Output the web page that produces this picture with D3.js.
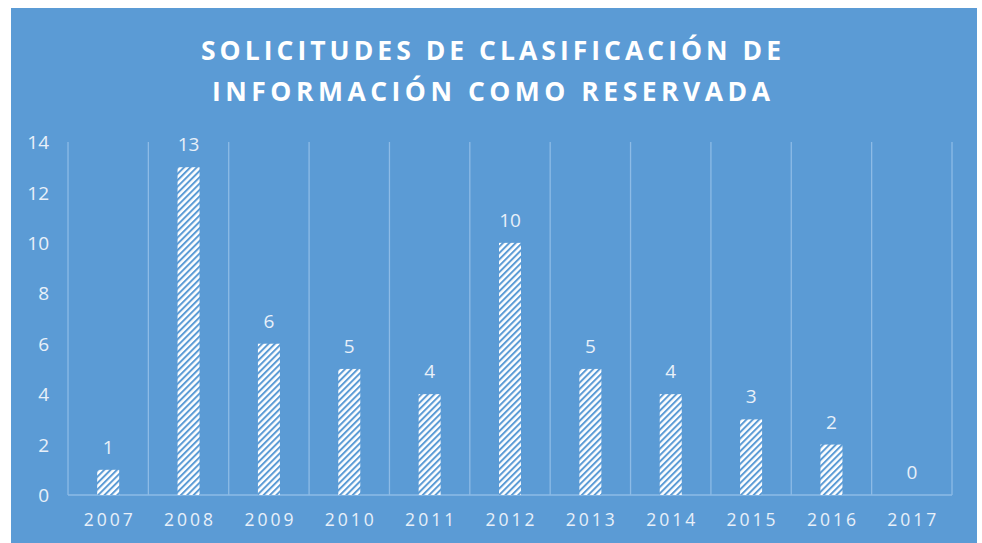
<!DOCTYPE html>
<html><head><meta charset="utf-8">
<script src="https://cdn.jsdelivr.net/npm/d3@7/dist/d3.min.js"></script>
<style>html,body{margin:0;padding:0;background:#fff;}svg{display:block;}</style>
</head><body>
<svg id="chart" width="982" height="543"></svg>
<script>
const titleLines = ["SOLICITUDES DE CLASIFICACIÓN DE", "INFORMACIÓN COMO RESERVADA"];
const years = ["2007","2008","2009","2010","2011","2012","2013","2014","2015","2016","2017"];
const values = [1,13,6,5,4,10,5,4,3,2,0];
const yTicks = [0,2,4,6,8,10,12,14];

const svg = d3.select("#chart");
const bg = "#5b9bd5";
const font = "'Open Sans', sans-serif";
const labelColor = "#e8f0f9";

const defs = svg.append("defs");
const pat = defs.append("pattern").attr("id","hatch").attr("patternUnits","userSpaceOnUse")
  .attr("width",4.5).attr("height",4.5).attr("patternTransform","rotate(45)");
pat.append("rect").attr("width",4.5).attr("height",4.5).attr("fill","#ffffff");
pat.append("rect").attr("x",0).attr("width",2).attr("height",4.5).attr("fill",bg);

svg.append("rect").attr("x",11).attr("y",8).attr("width",966).attr("height",535).attr("fill",bg);

const x = d3.scaleBand().domain(years).range([68,952]).paddingInner(0).paddingOuter(0);
const y = d3.scaleLinear().domain([0,14]).range([495,142]);

// vertical gridlines at category boundaries
const bounds = years.map(d => x(d)).concat([x.range()[1]]);
svg.append("g").selectAll("line").data(bounds).join("line")
  .attr("x1",d=>d).attr("x2",d=>d).attr("y1",y(14)).attr("y2",y(0))
  .attr("stroke","#8dbbe6").attr("stroke-width",1.3);
svg.append("line").attr("x1",68).attr("x2",952).attr("y1",y(0)).attr("y2",y(0))
  .attr("stroke","#8dbbe6").attr("stroke-width",1.3);

// y axis labels
const yAxis = d3.axisLeft(y).tickValues(yTicks).tickSize(0).tickPadding(0);
const gy = svg.append("g").attr("transform","translate(49,0)").call(yAxis);
gy.select(".domain").remove();
gy.selectAll("text").attr("fill",labelColor).style("font-family",font).style("font-size","19px").attr("dy","0.35em");

// x axis labels
const xAxis = d3.axisBottom(x).tickSize(0).tickPadding(0);
const gx = svg.append("g").attr("transform","translate(0,526)").call(xAxis);
gx.select(".domain").remove();
gx.selectAll("text").attr("fill",labelColor).style("font-family",font).style("font-size","17.5px")
  .style("letter-spacing","3px").attr("y",0).attr("dy","0").attr("dx","1.5px");

// bars
const bw = 22;
svg.append("g").selectAll("rect").data(values).join("rect")
  .attr("x",(d,i)=>x(years[i])+x.bandwidth()/2-bw/2)
  .attr("y",d=>y(d)).attr("width",bw).attr("height",d=>y(0)-y(d))
  .attr("fill","url(#hatch)");

// data labels
svg.append("g").selectAll("text").data(values).join("text")
  .attr("x",(d,i)=>x(years[i])+x.bandwidth()/2)
  .attr("y",d=>y(d)-16).attr("text-anchor","middle")
  .attr("fill",labelColor).style("font-family",font).style("font-size","19px")
  .text(d=>d);

// title
const tw = [580, 558];
svg.append("g").selectAll("text").data(titleLines).join("text")
  .attr("x",491).attr("y",(d,i)=>60+i*41).attr("text-anchor","middle")
  .attr("fill","#ffffff").style("font-family",font).style("font-size","26.5px").style("font-weight","bold")
  .attr("textLength",(d,i)=>tw[i]).attr("lengthAdjust","spacing")
  .text(d=>d);
</script>
</body></html>
